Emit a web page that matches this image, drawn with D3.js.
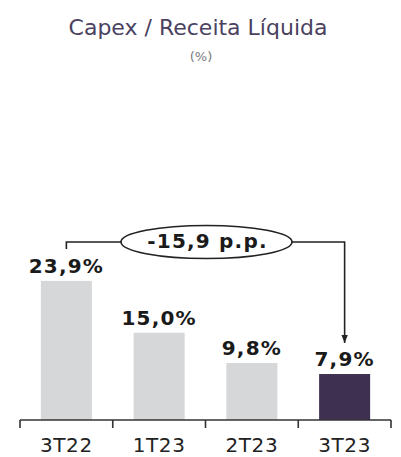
<!DOCTYPE html>
<html>
<head>
<meta charset="utf-8">
<script src="https://cdn.jsdelivr.net/npm/d3@7"></script>
<style>
  body { margin: 0; background: #fff; }
  svg { display: block; font-family: "DejaVu Sans", Verdana, sans-serif; }
</style>
</head>
<body>
<div id="chart"></div>
<script>
// chart data
const categories = ["3T22", "1T23", "2T23", "3T23"];
const values = [23.9, 15.0, 9.8, 7.9];
const valueLabels = ["23,9%", "15,0%", "9,8%", "7,9%"];
const deltaLabel = "-15,9 p.p.";

const width = 401, height = 457;
const axisY = 420;

const svg = d3.select("#chart").append("svg")
  .attr("width", width)
  .attr("height", height);

// title
svg.append("text")
  .attr("x", 198).attr("y", 35)
  .attr("text-anchor", "middle")
  .attr("font-size", "22px")
  .attr("fill", "#4a4260")
  .text("Capex / Receita Líquida");

svg.append("text")
  .attr("x", 201).attr("y", 61)
  .attr("text-anchor", "middle")
  .attr("font-size", "13px")
  .attr("fill", "#7a7a80")
  .text("(%)");

let x = d3.scaleBand()
  .domain(categories)
  .range([20, 391])
  .paddingInner(0.45)
  .paddingOuter(0.225);

let y = d3.scaleLinear()
  .domain([0, 30])
  .range([axisY, axisY - 174.6]);

// bars
svg.selectAll("rect.bar")
  .data(categories).enter()
  .append("rect")
  .attr("class", "bar")
  .attr("x", d => x(d))
  .attr("width", x.bandwidth())
  .attr("y", (d, i) => y(values[i]))
  .attr("height", (d, i) => y(0) - y(values[i]))
  .attr("fill", (d, i) => i === categories.length - 1 ? "#3e3050" : "#d5d7d9");

// value labels
svg.selectAll("text.val")
  .data(categories).enter()
  .append("text")
  .attr("class", "val")
  .attr("x", d => x(d) + x.bandwidth() / 2)
  .attr("y", (d, i) => y(values[i]) - 8)
  .attr("text-anchor", "middle")
  .attr("font-size", "20px")
  .attr("font-weight", "bold")
  .attr("letter-spacing", "1.2px")
  .attr("fill", "#1a1a1a")
  .text((d, i) => valueLabels[i]);

// axis line with ticks on the band boundaries
const step = x.step();
const r0 = x.range()[0];
svg.append("line")
  .attr("x1", r0).attr("x2", x.range()[1])
  .attr("y1", axisY).attr("y2", axisY)
  .attr("stroke", "#333").attr("stroke-width", 1.6);

svg.selectAll("line.tick")
  .data(d3.range(categories.length + 1)).enter()
  .append("line")
  .attr("class", "tick")
  .attr("x1", i => r0 + i * step).attr("x2", i => r0 + i * step)
  .attr("y1", axisY).attr("y2", axisY + 8)
  .attr("stroke", "#333").attr("stroke-width", 1.6);

svg.selectAll("text.cat")
  .data(categories).enter()
  .append("text")
  .attr("class", "cat")
  .attr("x", d => x(d) + x.bandwidth() / 2)
  .attr("y", 452)
  .attr("text-anchor", "middle")
  .attr("font-size", "20px")
  .attr("letter-spacing", "0.6px")
  .attr("fill", "#222")
  .text(d => d);

// delta annotation: bracket from first bar to last bar
const first = categories[0], last = categories[categories.length - 1];
const xa = x(first) + x.bandwidth() / 2;
const xb = x(last) + x.bandwidth() / 2;
const lineY = 242;
const cx = 206.5, rx = 85.5, ry = 16.5;
const tipY = y(values[values.length - 1]) - 31;

svg.append("defs").append("marker")
  .attr("id", "arrowhead")
  .attr("viewBox", "0 -5 10 10")
  .attr("refX", 10).attr("refY", 0)
  .attr("markerWidth", 5).attr("markerHeight", 5)
  .attr("orient", "auto")
.append("path")
  .attr("d", "M0,-4L10,0L0,4Z")
  .attr("fill", "#222");

svg.append("path")
  .attr("d", `M${xa},${lineY + 7}V${lineY}H${cx - rx}`)
  .attr("fill", "none")
  .attr("stroke", "#222").attr("stroke-width", 1.6);

svg.append("path")
  .attr("d", `M${cx + rx},${lineY}H${xb}V${tipY}`)
  .attr("fill", "none")
  .attr("stroke", "#222").attr("stroke-width", 1.6)
  .attr("marker-end", "url(#arrowhead)");

svg.append("ellipse")
  .attr("cx", cx).attr("cy", lineY)
  .attr("rx", rx).attr("ry", ry)
  .attr("fill", "#fff")
  .attr("stroke", "#222").attr("stroke-width", 1.6);

svg.append("text")
  .attr("x", cx + 1).attr("y", lineY + 6)
  .attr("text-anchor", "middle")
  .attr("font-size", "20px")
  .attr("font-weight", "bold")
  .attr("letter-spacing", "1.2px")
  .attr("fill", "#1a1a1a")
  .text(deltaLabel);
</script>
</body>
</html>
